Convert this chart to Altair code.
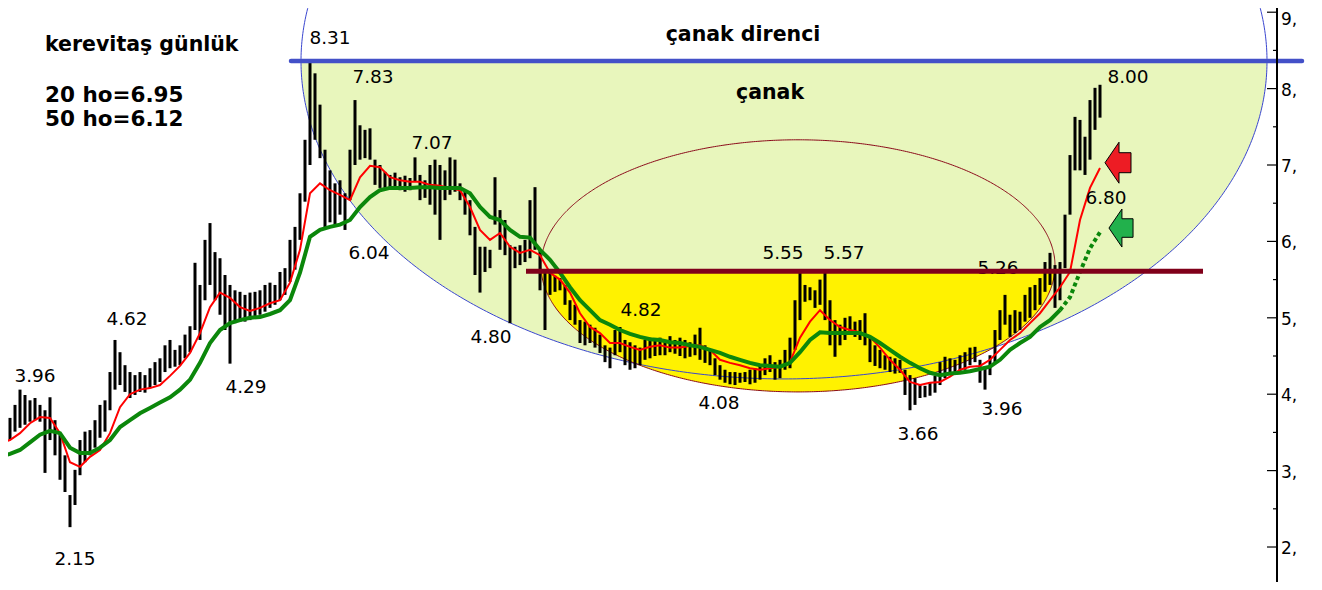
import altair as alt
import numpy as np
import pandas as pd

# ---- daily price bars (high / low), one bar per trading step ----
bar_high = [3.60,3.73,3.69,3.86,4.06,3.99,3.92,3.95,3.86,3.79,
            3.96,3.66,3.49,3.20,2.68,3.01,3.40,3.51,3.53,3.66,
            3.86,3.92,4.29,4.71,4.55,4.38,4.29,4.25,4.29,4.25,
            4.34,4.42,4.47,4.64,4.71,4.58,4.64,4.78,4.89,5.72,
            5.43,6.02,6.24,5.86,5.78,5.56,5.43,5.36,5.34,5.30,
            5.33,5.34,5.36,5.43,5.46,5.43,5.60,5.65,6.02,6.19,
            6.63,7.33,8.34,8.20,7.79,7.20,6.93,6.76,6.80,6.63,
            7.20,7.85,7.52,7.46,7.48,7.07,7.00,6.91,6.87,6.90,
            6.84,6.86,6.83,7.10,6.87,6.80,7.00,7.07,7.00,6.93,
            7.10,7.07,6.76,6.67,6.54,6.19,5.93,5.93,5.89,6.84,
            6.41,6.28,5.95,5.93,5.95,6.02,6.54,6.71,5.89,5.63,
            5.60,5.55,5.52,5.43,5.23,5.17,4.97,4.95,4.91,4.87,
            4.78,4.64,4.61,4.84,4.88,4.71,4.68,4.64,4.61,4.71,
            4.74,4.71,4.74,4.71,4.76,4.71,4.74,4.71,4.68,4.78,
            4.87,4.64,4.58,4.47,4.38,4.32,4.29,4.29,4.28,4.29,
            4.32,4.34,4.38,4.47,4.51,4.42,4.45,4.58,4.74,5.23,
            5.59,5.43,5.40,5.36,5.50,5.59,5.23,4.97,4.91,5.00,
            5.02,4.95,4.97,5.06,4.74,4.64,4.58,4.51,4.49,4.47,
            4.45,4.32,4.25,4.21,4.12,4.11,4.16,4.24,4.42,4.49,
            4.47,4.45,4.51,4.55,4.61,4.62,4.45,4.36,4.51,4.84,
            5.10,5.30,5.04,5.10,5.08,5.30,5.40,5.43,5.52,5.73,
            5.85,5.69,5.73,6.35,7.13,7.63,7.59,7.37,7.85,8.01,8.05]
bar_low = [3.40,3.43,3.40,3.51,3.56,3.60,3.64,3.66,3.64,2.97,
           3.40,3.20,2.88,2.72,2.26,2.55,2.94,3.11,3.20,3.30,
           3.43,3.51,3.79,4.06,4.12,4.03,3.95,3.99,4.03,4.02,
           4.08,4.12,4.16,4.29,4.34,4.36,4.38,4.47,4.55,4.84,
           4.71,5.23,5.43,5.23,5.04,4.84,4.40,4.93,4.95,4.95,
           4.97,5.00,5.04,5.08,5.13,5.17,5.23,5.30,5.47,5.63,
           6.02,6.52,7.00,7.33,7.09,6.18,6.25,6.22,6.35,6.15,
           6.54,7.00,7.07,7.09,7.07,6.74,6.70,6.70,6.71,6.70,
           6.67,6.65,6.67,6.78,6.54,6.57,6.48,6.35,6.02,6.54,
           6.61,6.65,6.54,6.35,6.08,5.56,5.33,5.60,5.65,6.22,
           5.89,5.82,4.93,5.65,5.69,5.73,5.78,5.89,5.36,4.84,
           5.30,5.34,5.36,5.17,4.97,4.91,4.67,4.64,4.67,4.61,
           4.54,4.42,4.34,4.51,4.55,4.38,4.32,4.34,4.38,4.45,
           4.47,4.50,4.51,4.51,4.55,4.53,4.50,4.47,4.49,4.51,
           4.45,4.41,4.38,4.25,4.19,4.15,4.13,4.12,4.15,4.16,
           4.13,4.15,4.19,4.25,4.29,4.19,4.21,4.32,4.34,4.58,
           4.97,5.21,5.23,5.13,5.17,4.97,4.64,4.49,4.64,4.71,
           4.78,4.75,4.71,4.64,4.42,4.37,4.34,4.32,4.29,4.27,
           4.28,3.99,3.79,3.86,3.95,3.96,3.98,4.02,4.12,4.21,
           4.25,4.27,4.29,4.32,4.38,4.42,4.15,4.06,4.25,4.42,
           4.71,4.91,4.75,4.80,4.84,4.95,5.00,5.10,5.17,5.34,
           5.43,5.13,5.23,5.65,6.35,6.93,6.93,6.87,7.07,7.46,7.62]

# ---- moving averages, one value every 2 steps ----
ma20 = [3.36,3.40,3.49,3.62,3.70,3.69,3.49,3.11,3.05,3.18,
        3.27,3.49,3.83,4.00,4.06,4.08,4.12,4.24,4.37,4.54,
        4.80,5.14,5.33,5.26,5.14,5.09,5.13,5.19,5.23,5.46,
        5.89,6.63,6.76,6.67,6.61,6.54,6.84,6.99,6.97,6.84,
        6.80,6.78,6.78,6.74,6.73,6.70,6.67,6.45,6.15,6.02,
        6.11,5.93,5.85,5.89,5.82,5.59,5.50,5.33,5.06,4.88,
        4.80,4.67,4.67,4.62,4.58,4.62,4.64,4.61,4.61,4.63,
        4.64,4.58,4.45,4.41,4.38,4.34,4.32,4.34,4.36,4.42,
        4.74,4.95,5.10,4.97,4.88,4.84,4.81,4.75,4.61,4.45,
        4.32,4.16,4.12,4.15,4.16,4.23,4.32,4.36,4.37,4.45,
        4.58,4.71,4.80,4.93,5.06,5.23,5.40,5.60,6.28,6.70,
        6.96]
ma50 = [3.18,3.22,3.27,3.37,3.47,3.52,3.49,3.30,3.23,3.23,
        3.30,3.40,3.57,3.66,3.75,3.82,3.89,3.96,4.06,4.19,
        4.41,4.67,4.84,4.93,4.97,5.00,5.01,5.05,5.10,5.23,
        5.59,6.06,6.15,6.19,6.22,6.28,6.45,6.58,6.67,6.70,
        6.70,6.70,6.71,6.71,6.70,6.70,6.70,6.63,6.45,6.32,
        6.28,6.15,6.06,6.05,5.89,5.76,5.59,5.40,5.23,5.10,
        4.97,4.91,4.84,4.79,4.75,4.72,4.71,4.68,4.67,4.64,
        4.62,4.58,4.54,4.49,4.45,4.41,4.38,4.37,4.36,4.41,
        4.55,4.71,4.81,4.80,4.80,4.80,4.80,4.75,4.67,4.58,
        4.49,4.41,4.34,4.28,4.25,4.27,4.28,4.30,4.33,4.36,
        4.45,4.58,4.67,4.75,4.88,4.97,5.10,5.27,5.60,5.91,
        6.12]

axis_ticks = [2, 3, 4, 5, 6, 7, 8, 9]
minor_ticks = [2.5, 3.5, 4.5, 5.5, 6.5, 7.5, 8.5]

resistance = 8.36   # "çanak direnci"
neckline = 5.61

price_labels = ["8.31", "7.83", "7.07", "6.04", "4.80", "4.62", "3.96", "4.29", "2.15",
                "4.82", "4.08", "5.55", "5.57", "5.26", "3.66", "3.96", "8.00", "6.80"]
label_day = [66.0, 74.6, 86.4, 73.8, 98.2, 25.4, 7.0, 49.2, 15.0,
             128.2, 143.8, 156.6, 168.8, 199.6, 183.6, 200.4, 225.6, 221.2]
label_price = [8.66, 8.15, 7.29, 5.85, 4.75, 4.98, 4.24, 4.09, 1.84,
               5.10, 3.89, 5.85, 5.85, 5.65, 3.48, 3.81, 8.15, 6.57]

chart_title = "kerevitaş günlük"
ma_lines = ["20 ho=6.95", "50 ho=6.12"]
ma_line_price = [7.90, 7.59]
centre_titles = ["çanak direnci", "çanak"]
centre_day = [148.6, 154.0]
centre_price = [8.70, 7.94]

W, H = 1269, 574
FONT = "DejaVu Sans"
xs = alt.Scale(domain=[1.6, 255.4], nice=False, zero=False)
ys = alt.Scale(domain=[1.542, 9.055], nice=False, zero=False)


def X(f):
    return alt.X(f, type="quantitative", scale=xs, axis=None)


def Y(f):
    return alt.Y(f, type="quantitative", scale=ys, axis=None)


# ---- tables ----
bars = pd.DataFrame({"d": np.arange(len(bar_high)), "hi": bar_high, "lo": bar_low})
ma_day = np.arange(0, 2 * len(ma20), 2)
ma20_df = pd.DataFrame({"d": ma_day, "v": ma20})
ma50_df = pd.DataFrame({"d": ma_day, "v": ma50})
ma50_solid = ma50_df[ma50_df.d <= 212]
ma50_dot = ma50_df[ma50_df.d >= 212]


def ellipse(cx, cy, a, b, t0=0.0, t1=2 * np.pi, n=361):
    t = np.linspace(t0, t1, n)
    return pd.DataFrame({"d": cx + a * np.cos(t), "p": cy + b * np.sin(t), "o": np.arange(n)})


big = dict(cx=156.8, cy=resistance, a=96.6, b=4.16)
cup = dict(cx=159.6, cy=5.68, a=51.4, b=1.65)

big_fill = ellipse(**big, t0=np.pi, t1=2 * np.pi, n=300)
big_fill["top"] = resistance
cup_fill = ellipse(**cup, t0=np.pi, t1=2 * np.pi, n=300)
cup_fill["p"] = np.minimum(cup_fill["p"], neckline)
cup_fill["top"] = neckline

layers = []
layers.append(alt.Chart(big_fill).mark_area(color="#e8f6bc", opacity=1, clip=True).encode(
    x=X("d"), y=Y("p"), y2="top"))
layers.append(alt.Chart(cup_fill).mark_area(color="#fff200", opacity=1, clip=True).encode(
    x=X("d"), y=Y("p"), y2="top"))
layers.append(alt.Chart(ellipse(**big, n=721)).mark_line(color="#3a46d0", strokeWidth=1, clip=True).encode(
    x=X("d"), y=Y("p"), order="o:Q"))
layers.append(alt.Chart(ellipse(**cup, n=721)).mark_line(color="#8b0a1a", strokeWidth=1, clip=True).encode(
    x=X("d"), y=Y("p"), order="o:Q"))

# price bars
layers.append(alt.Chart(bars).mark_rule(color="black", strokeWidth=3, clip=True).encode(
    x=X("d"), y=Y("lo"), y2="hi"))

# moving averages
layers.append(alt.Chart(ma20_df).mark_line(color="#ff0000", strokeWidth=2, clip=True).encode(
    x=X("d"), y=Y("v")))
layers.append(alt.Chart(ma50_solid).mark_line(color="#0b870b", strokeWidth=4, clip=True).encode(
    x=X("d"), y=Y("v")))
layers.append(alt.Chart(ma50_dot).mark_line(color="#0b870b", strokeWidth=4, strokeDash=[4, 3],
                                            strokeCap="butt", clip=True).encode(
    x=X("d"), y=Y("v")))

# price labels
lab_df = pd.DataFrame({"t": price_labels, "d": label_day, "p": label_price})
layers.append(alt.Chart(lab_df).mark_text(font=FONT, fontSize=18.5, color="black",
                                          align="center", baseline="middle").encode(
    x=X("d"), y=Y("p"), text="t:N"))

ttl_df = pd.DataFrame({"t": [chart_title], "d": [9.0], "p": [8.57]})
layers.append(alt.Chart(ttl_df).mark_text(font=FONT, fontSize=20.5, fontWeight="bold", color="black",
                                          align="left", baseline="middle").encode(
    x=X("d"), y=Y("p"), text="t:N"))
ma_df = pd.DataFrame({"t": ma_lines, "d": [9.0] * 2, "p": ma_line_price})
layers.append(alt.Chart(ma_df).mark_text(font=FONT, fontSize=21.5, fontWeight="bold", color="black",
                                         align="left", baseline="middle").encode(
    x=X("d"), y=Y("p"), text="t:N"))
ctr_df = pd.DataFrame({"t": centre_titles, "d": centre_day, "p": centre_price})
layers.append(alt.Chart(ctr_df).mark_text(font=FONT, fontSize=20.5, fontWeight="bold", color="black",
                                          align="center", baseline="middle").encode(
    x=X("d"), y=Y("p"), text="t:N"))

# arrows pointing at the MA ends
arrow_path = "M-0.634,0L0.049,-1L0.049,-0.488L0.634,-0.488L0.634,0.488L0.049,0.488L0.049,1Z"
arrows = pd.DataFrame({"d": [223.6, 224.2], "p": [7.03, 6.175], "c": ["r", "g"]})
layers.append(alt.Chart(arrows[arrows.c == "r"]).mark_point(
    shape=arrow_path, size=1681, filled=True, fill="#ed1c24", stroke="black", strokeWidth=1,
    opacity=1, fillOpacity=1).encode(x=X("d"), y=Y("p")))
layers.append(alt.Chart(arrows[arrows.c == "g"]).mark_point(
    shape=arrow_path, size=1444, filled=True, fill="#22b14c", stroke="black", strokeWidth=1,
    opacity=1, fillOpacity=1).encode(x=X("d"), y=Y("p")))

# horizontal levels
lvl_blue = pd.DataFrame({"x1": [58.2], "x2": [260.4], "y": [resistance]})
lvl_red = pd.DataFrame({"x1": [105.2], "x2": [240.6], "y": [neckline]})
layers.append(alt.Chart(lvl_blue).mark_rule(color="#4350c8", strokeWidth=4.5, strokeCap="round").encode(
    x=X("x1"), x2="x2", y=Y("y")))
layers.append(alt.Chart(lvl_red).mark_rule(color="#80001a", strokeWidth=5).encode(
    x=X("x1"), x2="x2", y=Y("y")))

# right-hand price axis: domain line, inward ticks and "9," style labels
axis_df = pd.DataFrame({"y": axis_ticks, "lab": [f"{v}," for v in axis_ticks]})
minor_df = pd.DataFrame({"y": minor_ticks})
layers.append(alt.Chart(axis_df).mark_rule(color="black", strokeWidth=1.5).encode(
    x=alt.value(W), y=alt.value(0), y2=alt.value(H)))
layers.append(alt.Chart(axis_df).mark_rule(color="black", strokeWidth=1.2).encode(
    y=Y("y"), x=alt.value(W - 10), x2=alt.value(W)))
layers.append(alt.Chart(minor_df).mark_rule(color="black", strokeWidth=1.2).encode(
    y=Y("y"), x=alt.value(W - 4), x2=alt.value(W)))
layers.append(alt.Chart(axis_df[axis_df.y < 9]).mark_text(
    font=FONT, fontSize=17, color="black", align="left", baseline="middle", dx=4, dy=2).encode(
    y=Y("y"), x=alt.value(W), text="lab:N"))
layers.append(alt.Chart(axis_df[axis_df.y == 9]).mark_text(
    font=FONT, fontSize=17, color="black", align="left", baseline="top", dx=4, dy=0).encode(
    y=Y("y"), x=alt.value(W), text="lab:N"))

chart = alt.layer(*layers).properties(
    width=W, height=H, autosize="none",
    padding={"left": 0, "top": 0, "right": 30, "bottom": 0},
    background="white",
).configure_view(stroke=None)

chart.save("out.html", embed_options={"renderer": "svg", "actions": False})
